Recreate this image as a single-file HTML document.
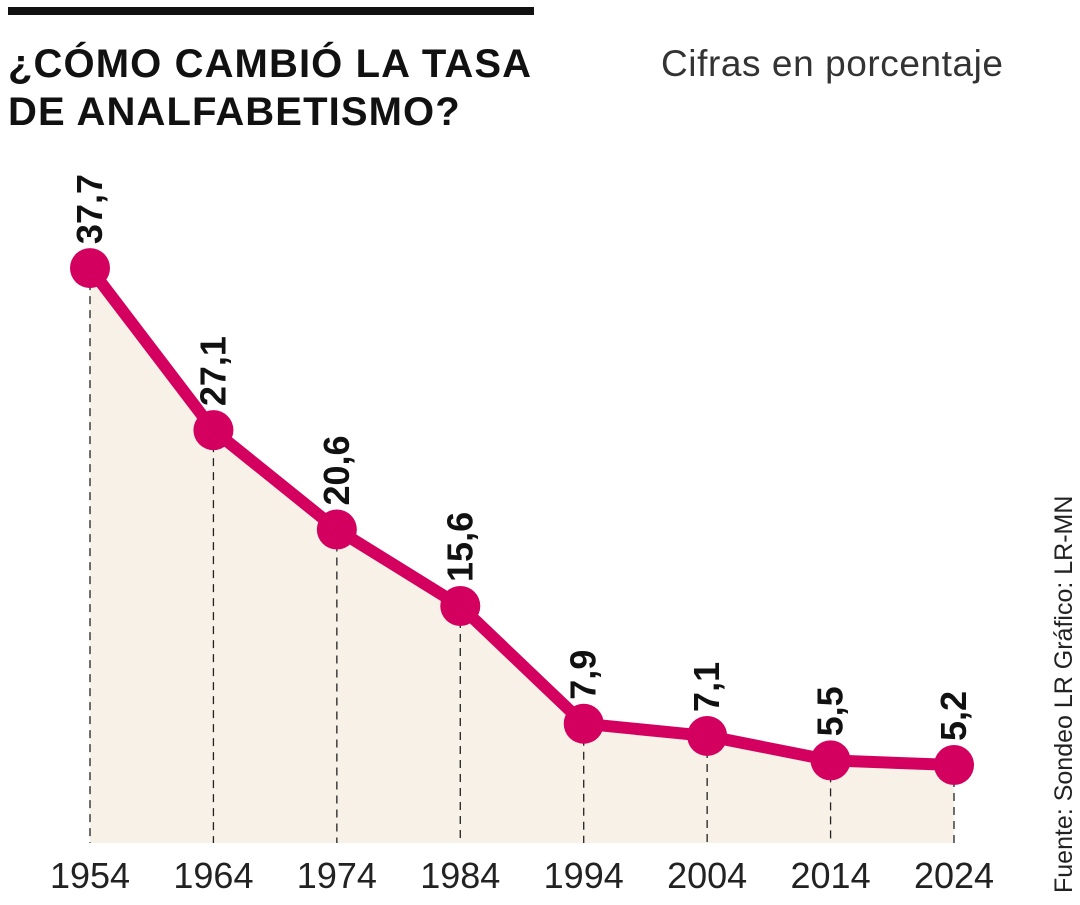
<!DOCTYPE html>
<html><head><meta charset="utf-8">
<style>
html,body{margin:0;padding:0;background:#fff;}
body{width:1080px;height:900px;overflow:hidden;font-family:"Liberation Sans",sans-serif;}
</style></head>
<body>
<svg width="1080" height="900" viewBox="0 0 1080 900">
  <rect x="8" y="7" width="526" height="8" fill="#111"/>
  <text x="8" y="77" font-size="40" font-weight="bold" fill="#111" letter-spacing="1.1">¿CÓMO CAMBIÓ LA TASA</text>
  <text x="8" y="125" font-size="40" font-weight="bold" fill="#111" letter-spacing="1.1">DE ANALFABETISMO?</text>
  <text x="1003" y="76" font-size="37" fill="#333" text-anchor="end" textLength="342">Cifras en porcentaje</text>
  <text transform="translate(1072,893) rotate(-90)" font-size="25" fill="#222">Fuente: Sondeo LR  Gráfico: LR-MN</text>
  <g id="plot"></g>
</svg>
<script>
const years = [1954,1964,1974,1984,1994,2004,2014,2024];
const values = [37.7,27.1,20.6,15.6,7.9,7.1,5.5,5.2];
const labels = ["37,7","27,1","20,6","15,6","7,9","7,1","5,5","5,2"];

const NS="http://www.w3.org/2000/svg";
const xScale = y => 90 + (y-1954)*(954-90)/70;
const yScale = v => 844.5 - v*15.29;
const baseY = 843;
const g = document.getElementById('plot');
function mk(tag, attrs){const e=document.createElementNS(NS,tag);for(const k in attrs)e.setAttribute(k,attrs[k]);return e;}

let area = "M"+xScale(years[0])+","+baseY;
years.forEach((y,i)=>{area+=" L"+xScale(y)+","+yScale(values[i]);});
area += " L"+xScale(years[years.length-1])+","+baseY+" Z";
const a = mk('path',{d:area,fill:'#f7f1e7'});


g.appendChild(a);

years.forEach((y,i)=>{
  const l = mk('line',{x1:xScale(y),x2:xScale(y),y1:yScale(values[i]),y2:baseY,stroke:'#222','stroke-width':1.3,'stroke-dasharray':'8,6'});
  
  
  g.appendChild(l);
  const t = mk('text',{x:xScale(y),y:888,'font-size':36,fill:'#222','text-anchor':'middle'});
  t.textContent = y;
  
  
  g.appendChild(t);
});

const pts = years.map((y,i)=>xScale(y)+","+yScale(values[i])).join(" ");
const line = mk('polyline',{points:pts,fill:'none',stroke:'#d4005f','stroke-width':12,'stroke-linejoin':'round'});


g.appendChild(line);

years.forEach((y,i)=>{
  const cx=xScale(y), cy=yScale(values[i]);
  const c = mk('circle',{cx:cx,cy:cy,r:20,fill:'#d4005f'});
  
  
  g.appendChild(c);
  const t = mk('text',{transform:'translate('+(cx+12)+','+(cy-24)+') rotate(-90)','font-size':36,'font-weight':'bold',fill:'#111'});
  t.textContent = labels[i];
  
  
  g.appendChild(t);
});
</script>
</body></html>
